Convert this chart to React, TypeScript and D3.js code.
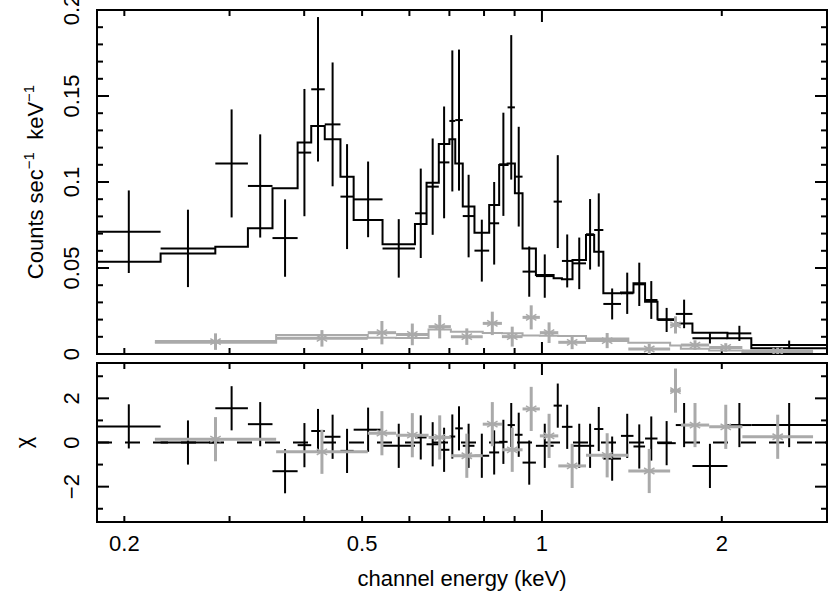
import React, { useEffect, useRef } from "react";
import * as d3 from "d3";

// black spectrum: bin edges (keV), rate, 1-sigma error, folded model, chi
const blackEdges = [0.18, 0.230, 0.284, 0.322, 0.354, 0.390, 0.411, 0.433, 0.460, 0.484, 0.541, 0.613, 0.641, 0.672, 0.700, 0.716, 0.737, 0.771, 0.816, 0.848, 0.876, 0.901, 0.928, 0.977, 1.046, 1.080, 1.125, 1.185, 1.223, 1.267, 1.356, 1.423, 1.488, 1.561, 1.675, 1.786, 2.044, 2.241, 3.0];
const blackRate = [0.0711, 0.0614, 0.1108, 0.0977, 0.0674, 0.1171, 0.1539, 0.1335, 0.0915, 0.0899, 0.0614, 0.0818, 0.0973, 0.1114, 0.1355, 0.136, 0.0802, 0.0601, 0.076, 0.1103, 0.1434, 0.1031, 0.0479, 0.0453, 0.0886, 0.0541, 0.0527, 0.0696, 0.0721, 0.0291, 0.0353, 0.0405, 0.0314, 0.0198, 0.0233, 0.0091, 0.0120, 0.0053];
const blackErr = [0.024, 0.0225, 0.0314, 0.030, 0.0225, 0.037, 0.042, 0.036, 0.0305, 0.022, 0.017, 0.026, 0.028, 0.0325, 0.041, 0.041, 0.024, 0.018, 0.024, 0.030, 0.042, 0.029, 0.0146, 0.0126, 0.027, 0.0154, 0.015, 0.0205, 0.0213, 0.009, 0.012, 0.0126, 0.011, 0.007, 0.0083, 0.003, 0.0044, 0.0025];
const blackModel = [0.0537, 0.0585, 0.0624, 0.0731, 0.0963, 0.1229, 0.1326, 0.1248, 0.1031, 0.0779, 0.0638, 0.0756, 0.0996, 0.1221, 0.1248, 0.1108, 0.0857, 0.0705, 0.0866, 0.1099, 0.1108, 0.0934, 0.0614, 0.0459, 0.044, 0.0434, 0.0547, 0.0692, 0.0595, 0.0353, 0.0357, 0.0411, 0.0304, 0.0202, 0.0178, 0.0124, 0.0091, 0.0033];
const blackChi = [0.73, 0.0, 1.55, 0.83, -1.3, -0.12, 0.52, 0.26, -0.38, 0.58, -0.15, 0.23, -0.08, -0.33, 0.27, 0.64, -0.15, -0.6, -0.45, 0.03, 0.79, 0.35, -0.91, -0.15, 1.67, 0.71, -0.15, -0.15, 0.61, -0.73, 0.3, -0.18, 0.18, -0.03, 0.79, -1.06, 0.79, 0.79];

// grey spectrum
const greyEdges = [0.225, 0.359, 0.511, 0.570, 0.646, 0.704, 0.796, 0.857, 0.928, 0.992, 1.065, 1.185, 1.395, 1.639, 1.708, 1.905, 2.165, 2.843];
const greyRate = [0.0072, 0.0091, 0.0124, 0.0114, 0.0159, 0.0101, 0.0178, 0.0101, 0.0213, 0.0124, 0.0068, 0.0078, 0.0029, 0.0169, 0.0052, 0.0038, 0.0017];
const greyErr = [0.0048, 0.0048, 0.0068, 0.0063, 0.0068, 0.0048, 0.0068, 0.0058, 0.007, 0.006, 0.004, 0.0044, 0.003, 0.005, 0.0028, 0.0025, 0.002];
const greyModel = [0.0065, 0.0111, 0.0095, 0.0093, 0.0143, 0.013, 0.0122, 0.012, 0.0107, 0.0106, 0.0105, 0.009, 0.0065, 0.005, 0.003, 0.002, 0.0012];
const greyChi = [0.15, -0.42, 0.42, 0.33, 0.23, -0.6, 0.83, -0.33, 1.52, 0.3, -1.06, -0.58, -1.29, 2.35, 0.79, 0.71, 0.26];

const xTickLabels = ["0.2", "0.5", "1", "2"];
const xTickValues = [0.2, 0.5, 1, 2];
const xMinorTicks = [0.2, 0.3, 0.4, 0.5, 0.6, 0.7, 0.8, 0.9, 2, 3];
const xMajorTicks = [1];
const rateTickLabels = ["0", "0.05", "0.1", "0.15", "0.2"];
const rateTickValues = [0, 0.05, 0.1, 0.15, 0.2];
const chiTickLabels = ["\u22122", "0", "2"];
const chiTickValues = [-2, 0, 2];

const GREY = "#aaaaaa";
const FONT = "'Liberation Sans', Arial, Helvetica, sans-serif";

export default function App() {
  const ref = useRef<SVGSVGElement>(null);

  useEffect(() => {
    const svg = d3.select(ref.current);
    svg.selectAll("*").remove();

    const left = 97, right = 827;
    const topT = 10, botT = 354, topB = 363, botB = 522;

    const x = d3.scaleLog().domain([0.18, 3.0]).range([left, right]);
    const yT = d3.scaleLinear().domain([0, 0.2]).range([botT, topT]);
    const yB = d3.scaleLinear().domain([-3.6, 3.6]).range([botB, topB]);

    const mid = (e: number[], i: number) => Math.sqrt(e[i] * e[i + 1]);

    // frames + inward ticks on all sides
    const panel = (y0: number, y1: number, yMinor: number[], yMajor: number[], ys: any) => {
      const g = svg.append("g").attr("stroke", "#000").attr("stroke-width", 2).attr("fill", "none");
      g.append("rect").attr("x", left).attr("y", y0).attr("width", right - left).attr("height", y1 - y0);
      xMinorTicks.concat(xMajorTicks).forEach((v) => {
        const len = xMajorTicks.includes(v) ? 12 : 6;
        const px = x(v);
        g.append("line").attr("x1", px).attr("x2", px).attr("y1", y1).attr("y2", y1 - len);
        g.append("line").attr("x1", px).attr("x2", px).attr("y1", y0).attr("y2", y0 + len);
      });
      yMinor.concat(yMajor).forEach((v) => {
        const len = yMajor.includes(v) ? 12 : 6;
        const py = ys(v);
        g.append("line").attr("x1", left).attr("x2", left + len).attr("y1", py).attr("y2", py);
        g.append("line").attr("x1", right).attr("x2", right - len).attr("y1", py).attr("y2", py);
      });
    };
    panel(topT, botT, d3.range(1, 20).map((i) => i / 100).filter((v) => Math.round(v * 100) % 5 !== 0), rateTickValues, yT);
    panel(topB, botB, [-3, -1, 1, 3], chiTickValues, yB);

    svg.append("line")
      .attr("x1", left).attr("x2", right)
      .attr("y1", yB(0)).attr("y2", yB(0))
      .attr("stroke", "#000").attr("stroke-width", 2)
      .attr("stroke-dasharray", "15,13");

    const clip = svg.append("defs");
    clip.append("clipPath").attr("id", "clipT").append("rect")
      .attr("x", left).attr("y", topT).attr("width", right - left).attr("height", botT - topT);
    clip.append("clipPath").attr("id", "clipB").append("rect")
      .attr("x", left).attr("y", topB).attr("width", right - left).attr("height", botB - topB);

    const stepLine = (edges: number[], vals: number[], ys: any) => {
      const pts: [number, number][] = vals.map((v, i) => [x(edges[i]), ys(v)]);
      pts.push([x(edges[edges.length - 1]), ys(vals[vals.length - 1])]);
      return d3.line().curve(d3.curveStepAfter)(pts);
    };

    // errs null => residual panel, bars are +-1 sigma
    const crosses = (g: any, edges: number[], vals: number[], errs: number[] | null, ys: any, color: string, w: number, star: boolean) => {
      vals.forEach((v, i) => {
        const cx = x(mid(edges, i));
        const cy = ys(v);
        const lo = errs ? ys(v - errs[i]) : ys(v - 1);
        const hi = errs ? ys(v + errs[i]) : ys(v + 1);
        g.append("line").attr("x1", x(edges[i])).attr("x2", x(edges[i + 1])).attr("y1", cy).attr("y2", cy)
          .attr("stroke", color).attr("stroke-width", w);
        g.append("line").attr("x1", cx).attr("x2", cx).attr("y1", lo).attr("y2", hi)
          .attr("stroke", color).attr("stroke-width", w);
        if (star) {
          [30, 150].forEach((a) => {
            const r = 6, rad = (a * Math.PI) / 180;
            g.append("line")
              .attr("x1", cx - r * Math.cos(rad)).attr("y1", cy - r * Math.sin(rad))
              .attr("x2", cx + r * Math.cos(rad)).attr("y2", cy + r * Math.sin(rad))
              .attr("stroke", color).attr("stroke-width", 1.5);
          });
        }
      });
    };

    const gT = svg.append("g").attr("clip-path", "url(#clipT)");
    gT.append("path").attr("d", stepLine(blackEdges, blackModel, yT))
      .attr("fill", "none").attr("stroke", "#000").attr("stroke-width", 2);
    crosses(gT, blackEdges, blackRate, blackErr, yT, "#000", 2, false);
    gT.append("path").attr("d", stepLine(greyEdges, greyModel, yT))
      .attr("fill", "none").attr("stroke", GREY).attr("stroke-width", 2);
    crosses(gT, greyEdges, greyRate, greyErr, yT, GREY, 3, true);

    const gB = svg.append("g").attr("clip-path", "url(#clipB)");
    crosses(gB, blackEdges, blackChi, null, yB, "#000", 2, false);
    crosses(gB, greyEdges, greyChi, null, yB, GREY, 3, true);

    const txt = svg.append("g").attr("font-family", FONT).attr("font-size", 22).attr("fill", "#000");
    xTickValues.forEach((v, i) => {
      txt.append("text").attr("x", x(v)).attr("y", 551).attr("text-anchor", "middle").text(xTickLabels[i]);
    });
    rateTickValues.forEach((v, i) => {
      txt.append("text").attr("transform", `translate(79,${yT(v)}) rotate(-90)`)
        .attr("text-anchor", "middle").text(rateTickLabels[i]);
    });
    chiTickValues.forEach((v, i) => {
      txt.append("text").attr("transform", `translate(79,${yB(v)}) rotate(-90)`)
        .attr("text-anchor", "middle").text(chiTickLabels[i]);
    });
    txt.append("text").attr("x", (left + right) / 2).attr("y", 586).attr("text-anchor", "middle")
      .text("channel energy (keV)");

    const title = txt.append("text").attr("transform", `translate(43,${(topT + botT) / 2}) rotate(-90)`)
      .attr("text-anchor", "middle");
    title.append("tspan").text("Counts sec");
    title.append("tspan").attr("dy", -9).attr("font-size", 15).text("\u22121");
    title.append("tspan").attr("dy", 9).text("\u00a0 keV");
    title.append("tspan").attr("dy", -9).attr("font-size", 15).text("\u22121");

    txt.append("text").attr("transform", `translate(31,${yB(0)}) rotate(-90)`)
      .attr("text-anchor", "middle").text("\u03c7");
  }, []);

  return (
    <svg ref={ref} width={830} height={595}
      style={{ position: "absolute", left: 0, top: 0, background: "#fff" }} />
  );
}
